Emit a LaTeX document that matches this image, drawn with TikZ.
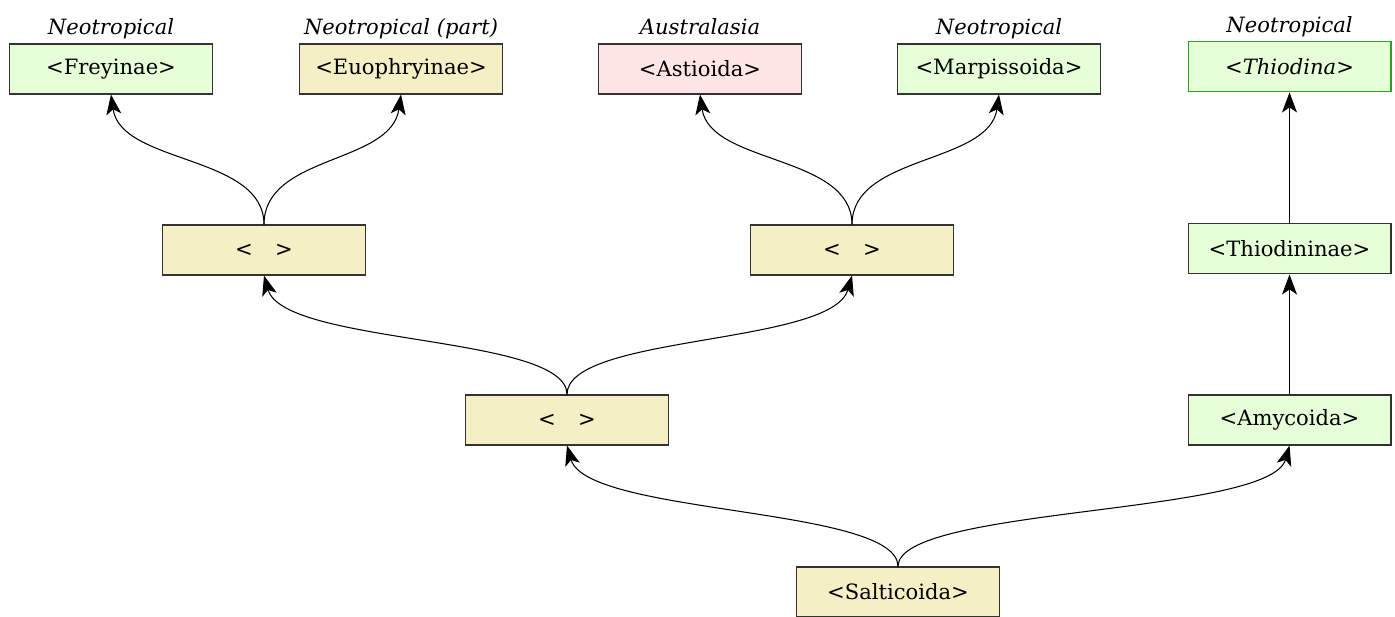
\documentclass[tikz,border=0pt]{standalone}
\usepackage{fontspec}
\setmainfont{DejaVu Serif}
\newfontfamily\gapfont{DejaVu Sans}
\usetikzlibrary{positioning, arrows.meta}
\definecolor{neofill}{HTML}{E6FFD9}
\definecolor{tanfill}{HTML}{F5EFC5}
\definecolor{ausfill}{HTML}{FFE5E5}
\definecolor{boxline}{HTML}{333333}
\definecolor{leafline}{HTML}{2E9E2E}
\tikzset{
  taxon/.style={
    rectangle,
    draw=boxline,
    line width=0.6pt,
    minimum width=4.06cm,
    minimum height=1cm,
    inner sep=2pt,
    text centered,
    font=\fontsize{12}{14}\selectfont
  },
  region/.style={
    inner sep=2pt,
    text depth=0.25em,
    font=\fontsize{12}{14}\selectfont\itshape
  },
  arrow/.style={
    draw=black,
    line width=0.6pt,
    -{Stealth[length=4mm,width=3mm,inset=1mm]}
  }
}
\newcommand*\gap{{\gapfont\fontsize{12}{14}\selectfont <\hspace{0.45cm}>}}

\begin{document}
\begin{tikzpicture}[x=0.02cm, y=0.02cm]
\useasboundingbox (0,0) rectangle (1395,617);

% nodes
\node[taxon, fill=tanfill] (salt) at (898,25) {<Salticoida>};
\node[taxon, fill=tanfill] (c1) at (567,197) {\gap};
\node[taxon, fill=neofill] (amy) at (1289.5,197) {<Amycoida>};
\node[taxon, fill=neofill, above = 2.4cm of amy] (thn) {<Thiodininae>};
\node[taxon, fill=neofill, draw=leafline, above = 2.62cm of thn] (thd) {\textit{<Thiodina>}};

\node[taxon, fill=tanfill] (c2) at (264,367) {\gap};
\node[taxon, fill=tanfill] (c3) at (852,367) {\gap};

\node[taxon, fill=neofill] (frey) at (111,548) {<Freyinae>};
\node[taxon, fill=tanfill] (euo) at (401,548) {<Euophryinae>};
\node[taxon, fill=ausfill] (ast) at (700,548) {<Astioida>};
\node[taxon, fill=neofill] (marp) at (999,548) {<Marpissoida>};

% regions
\node[region, above = 0.5pt of frey] (freyR) {Neotropical};
\node[region, above = 0.5pt of euo] (euoR) {Neotropical (part)};
\node[region, above = 0.5pt of ast] (astR) {Australasia};
\node[region, above = 0.5pt of marp] (marpR) {Neotropical};
\node[region, above = 0.5pt of thd] (thdR) {Neotropical};

% edges

%% salt
\draw [arrow] (salt.north) .. controls +(0,60) and +(20,-70) .. (c1.south);
\draw [arrow] (salt.north) .. controls +(0,60) and +(-20,-70) .. (amy.south);

%% c1
\draw [arrow] (c1.north) .. controls +(0,60) and +(20,-70) .. (c2.south);
\draw [arrow] (c1.north) .. controls +(0,60) and +(-20,-70) .. (c3.south);

%% c2, c3
\draw [arrow] (c2.north) .. controls +(0,70) and +(10,-70) .. (frey.south);
\draw [arrow] (c2.north) .. controls +(0,70) and +(-10,-70) .. (euo.south);
\draw [arrow] (c3.north) .. controls +(0,70) and +(10,-70) .. (ast.south);
\draw [arrow] (c3.north) .. controls +(0,70) and +(-10,-70) .. (marp.south);

%% amy
\draw [arrow] (amy.north) -- (thn.south);
\draw [arrow] (thn.north) -- (thd.south);

\end{tikzpicture}
\end{document}
